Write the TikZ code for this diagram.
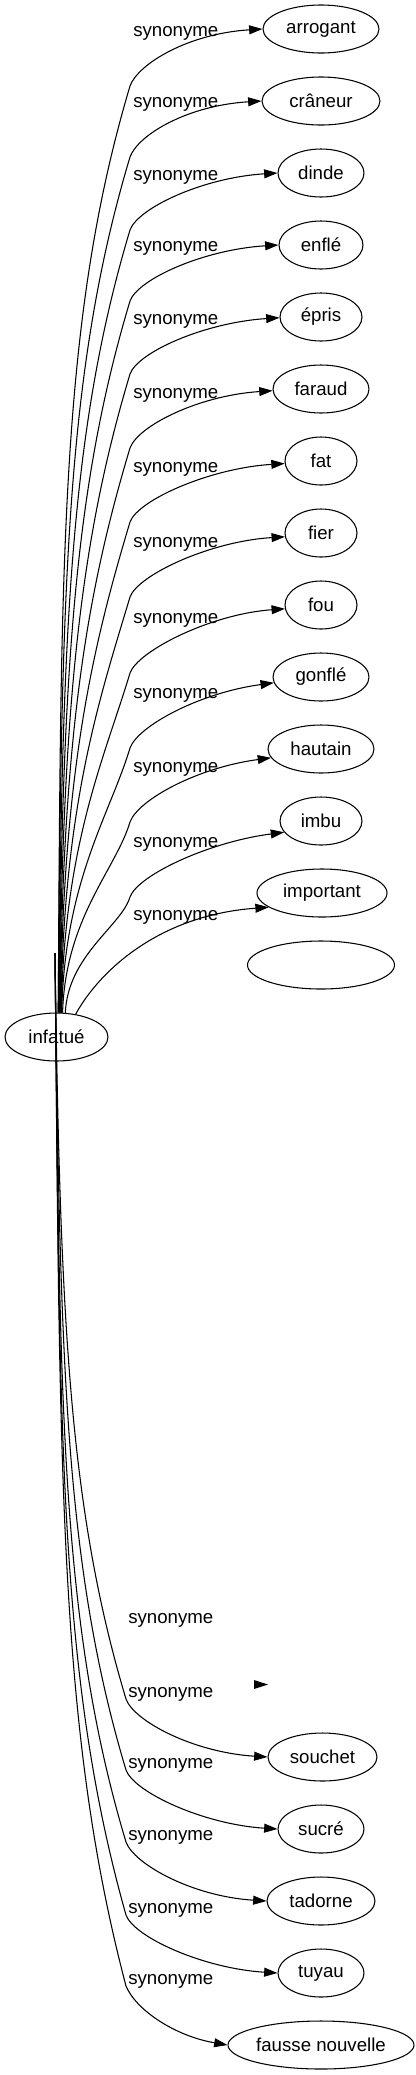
\documentclass[tikz,border=0pt]{standalone}
\usepackage{fontspec}
\setmainfont{Liberation Sans}
\usetikzlibrary{shapes.geometric,arrows.meta}
\tikzset{
  word/.style={ellipse, draw, line width=0.8pt, inner sep=0pt, minimum height=36pt, font=\fontsize{14pt}{16pt}\selectfont},
  lbl/.style={anchor=base west, inner sep=0pt, font=\fontsize{14pt}{16pt}\selectfont},
  syn/.style={line width=0.8pt, -{Triangle[length=10pt,width=6.7pt]}},
  bare/.style={line width=0.8pt}
}
\begin{document}
\begin{tikzpicture}[x=0.75pt,y=-0.75pt]
\useasboundingbox (0,0) rectangle (415,2075);
% nodes
\node[word, minimum width=77.25pt] (infatue) at (56.5,1037) {infatué};
\node[word, minimum width=87pt] (arrogant) at (321,29) {arrogant};
\node[word, minimum width=88.5pt] (craneur) at (321,101) {crâneur};
\node[word, minimum width=64.5pt] (dinde) at (321,173) {dinde};
\node[word, minimum width=63pt] (enfle) at (321,245) {enflé};
\node[word, minimum width=61.5pt] (epris) at (321,317) {épris};
\node[word, minimum width=72pt] (faraud) at (321,389) {faraud};
\node[word, minimum width=54pt] (fat) at (321,461) {fat};
\node[word, minimum width=54pt] (fier) at (321,533) {fier};
\node[word, minimum width=54pt] (fou) at (321,605) {fou};
\node[word, minimum width=72pt] (gonfle) at (321,677) {gonflé};
\node[word, minimum width=79.5pt] (hautain) at (321,749) {hautain};
\node[word, minimum width=61.5pt] (imbu) at (321,821) {imbu};
\node[word, minimum width=97.5pt] (important) at (322,893) {important};
\node[word, minimum width=110.25pt] (vide) at (321,965) {};
\node[word, minimum width=81.75pt] (souchet) at (322.5,1757) {souchet};
\node[word, minimum width=64.5pt] (sucre) at (321,1829) {sucré};
\node[word, minimum width=81pt] (tadorne) at (321,1901) {tadorne};
\node[word, minimum width=64.5pt] (tuyau) at (321,1973) {tuyau};
\node[word, minimum width=139.5pt] (fausse) at (321,2045) {fausse nouvelle};
\coordinate (bt) at (55,953);
% labels top
\foreach \b [count=\i] in {36,107,180,251,324,398,472,547,623,698,772,847,920}
  \node[lbl] (lt\i) at (133,\b) {synonyme};
% labels bottom
\foreach \b [count=\i] in {1623,1697,1768,1840,1913,1984}
  \node[lbl] (lb\i) at (128,\b) {synonyme};
% top edges
\draw[syn] (infatue.86) .. controls (61,549.5) and (61,317.75) .. (130,86) .. controls (138,64) and (188,33.6) .. (arrogant.west);
\draw[syn] (infatue.86) .. controls (61.4,585) and (65.8,371) .. (130,157) .. controls (138,135) and (187,105.5) .. (craneur.west);
\draw[syn] (infatue.85) .. controls (61.8,621.5) and (71.3,425.75) .. (130,230) .. controls (138,208) and (203,177.6) .. (dinde.west);
\draw[syn] (infatue.84) .. controls (62.2,657) and (76.6,479) .. (130,301) .. controls (138,279) and (204,249.5) .. (enfle.west);
\draw[syn] (infatue.83) .. controls (62.6,693.5) and (82.1,533.75) .. (130,374) .. controls (138,352) and (205,322.5) .. (epris.181);
\draw[syn] (infatue.82) .. controls (63,730.5) and (87.6,589.25) .. (130,448) .. controls (138,426) and (198,395.6) .. (faraud.182);
\draw[syn] (infatue.81) .. controls (63.4,767.5) and (93.2,644.75) .. (130,522) .. controls (138,500) and (210,468.2) .. (fat.184);
\draw[syn] (infatue.80) .. controls (63.8,805) and (98.8,701) .. (130,597) .. controls (138,575) and (210,541.3) .. (fier.186);
\draw[syn] (infatue.79) .. controls (64.2,843) and (104.5,758) .. (130,673) .. controls (138,651) and (210.5,614.1) .. (fou.186);
\draw[syn] (infatue.78) .. controls (64.6,880.5) and (110.1,814.25) .. (130,748) .. controls (138,726) and (199.5,692.8) .. (gonfle.187);
\draw[syn] (infatue.76) .. controls (65.5,917.5) and (115.7,869.75) .. (130,822) .. controls (138,800) and (197,767.6) .. (hautain.190);
\draw[syn] (infatue.70) .. controls (68,955) and (121.3,926) .. (130,897) .. controls (138,875) and (209.6,841.8) .. (imbu.197);
\draw[syn] (infatue.50) .. controls (100,970) and (160,915) .. (important.195);
% bottom edges
\draw[syn] (bt) .. controls (60,1326) and (70,1512.5) .. (126,1699) .. controls (134,1721) and (193,1752.3) .. (souchet.west);
\draw[syn] (bt) .. controls (60,1361.5) and (64.7,1565.75) .. (126,1770) .. controls (134,1792) and (203,1824.3) .. (sucre.west);
\draw[syn] (bt) .. controls (60,1397.5) and (59.3,1619.75) .. (126,1842) .. controls (134,1864) and (192,1896.3) .. (tadorne.west);
\draw[syn] (bt) .. controls (60,1434) and (58,1674.5) .. (126,1915) .. controls (134,1937) and (203,1968.4) .. (tuyau.west);
\draw[syn] (bt) .. controls (60,1469.5) and (58,1727.75) .. (126,1986) .. controls (136,2010) and (175,2036) .. (fausse.west);
% stray arrowhead
\fill (254,1680) -- (268,1684.5) -- (254,1689) -- cycle;
\end{tikzpicture}
\end{document}
